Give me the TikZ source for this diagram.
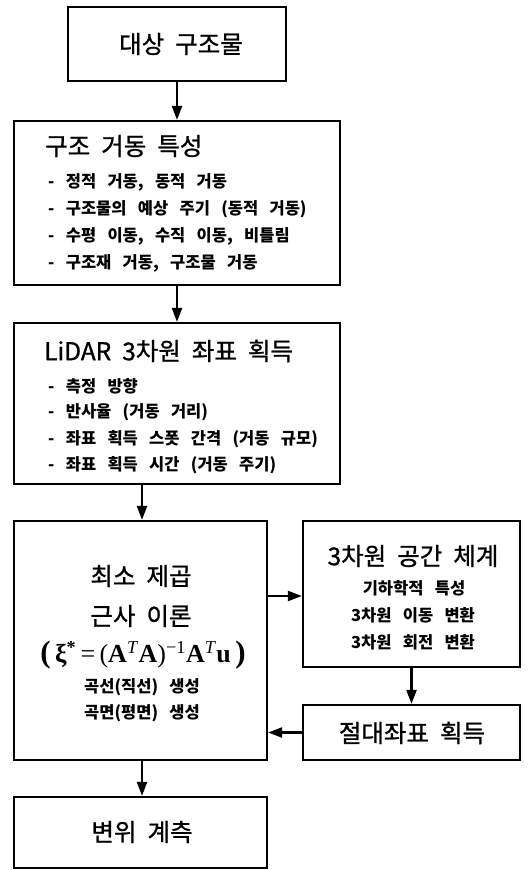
\documentclass[tikz,border=0pt]{standalone}
\usepackage[no-math]{fontspec}
\setmainfont{Noto Sans CJK KR}[WordSpace=3]
\newfontfamily\krt{Noto Sans CJK KR}[WordSpace=2, FakeBold=1]
\newfontfamily\tmsfont{Liberation Serif}
\usetikzlibrary{arrows.meta}
\begin{document}
\begin{tikzpicture}[x=1pt,y=-1pt,
  box/.style={draw, line width=2.2pt, inner sep=0pt},
  ttl/.style={font=\krt\fontsize{24.5}{28}\selectfont, inner sep=0pt},
  itm/.style={font=\fontsize{16.5}{20}\selectfont\bfseries, inner sep=0pt, anchor=west},
  sitm/.style={font=\fontsize{16.5}{20}\selectfont\bfseries, inner sep=0pt},
  arr/.style={line width=2.2pt, -{Triangle[length=14pt,width=10pt]}}]
\useasboundingbox (0,0) rectangle (528,870);
% boxes
\node[box, minimum width=218pt, minimum height=74pt] (b1) at (177,44) {};
\node[box, minimum width=326pt, minimum height=164pt] (b2) at (177,203) {};
\node[box, minimum width=326pt, minimum height=161pt] (b3) at (177,403.5) {};
\node[box, minimum width=253pt, minimum height=239pt] (b4) at (140.5,640.5) {};
\node[box, minimum width=217pt, minimum height=146pt] (b5) at (411.5,594) {};
\node[box, minimum width=217pt, minimum height=55pt] (b6) at (411.5,732.5) {};
\node[box, minimum width=253pt, minimum height=71pt] (b7) at (140.5,832.5) {};
% texts
\node[ttl] (t1) at (181,44) {대상 구조물};
\node[ttl, anchor=west] (t2) at (45,146) {구조 거동 특성};
\node[itm] (t2a) at (48,182) {- 정적 거동, 동적 거동};
\node[itm] (t2b) at (48,209) {- 구조물의 예상 주기 (동적 거동)};
\node[itm] (t2c) at (48,236) {- 수평 이동, 수직 이동, 비틀림};
\node[itm] (t2d) at (48,263) {- 구조재 거동, 구조물 거동};
\node[ttl, anchor=west] (t3) at (44,351) {LiDAR 3차원 좌표 획득};
\node[itm] (t3a) at (48,386) {- 측정 방향};
\node[itm] (t3b) at (48,412) {- 반사율 (거동 거리)};
\node[itm] (t3c) at (48,439) {- 좌표 획득 스폿 간격 (거동 규모)};
\node[itm] (t3d) at (48,465) {- 좌표 획득 시간 (거동 주기)};
\node[ttl] (t4a) at (141,576) {최소 제곱};
\node[ttl] (t4b) at (141,616) {근사 이론};
\node[inner sep=0pt, font=\tmsfont\fontsize{26}{28}\selectfont] (t4c) at (143,655)
  {{\bfseries\fontsize{31}{31}\selectfont(}\,\textbf{ξ}\textsuperscript{\textbf{*}}\,=\,(\textbf{A}\textsuperscript{\textit{T}}\textbf{A})\textsuperscript{−1}\textbf{A}\textsuperscript{\textit{T}}\textbf{u}\,{\bfseries\fontsize{31}{31}\selectfont)}};
\node[sitm] (t4d) at (142,687) {곡선(직선) 생성};
\node[sitm] (t4e) at (142,713) {곡면(평면) 생성};
\node[ttl] (t5) at (413,556) {3차원 공간 체계};
\node[sitm] (t5a) at (414,588) {기하학적 특성};
\node[sitm] (t5b) at (413,615) {3차원 이동 변환};
\node[sitm] (t5c) at (413,642) {3차원 회전 변환};
\node[ttl] (t6) at (412,733) {절대좌표 획득};
\node[ttl] (t7) at (142,832) {변위 계측};
% connectors
\coordinate (cx) at (142,0);
\coordinate (ry) at (0,596);
\draw[arr] (b1.south) -- (b2.north);
\draw[arr] (b2.south) -- (b3.north);
\draw[arr] (cx |- b3.south) -- (cx |- b4.north);
\draw[arr] (ry -| b4.east) -- (ry -| b5.west);
\draw[arr] (b5.south) -- (b6.north);
\draw[arr] (b6.west) -- (b6.west -| b4.east);
\draw[arr] (cx |- b4.south) -- (cx |- b7.north);
\end{tikzpicture}
\end{document}
